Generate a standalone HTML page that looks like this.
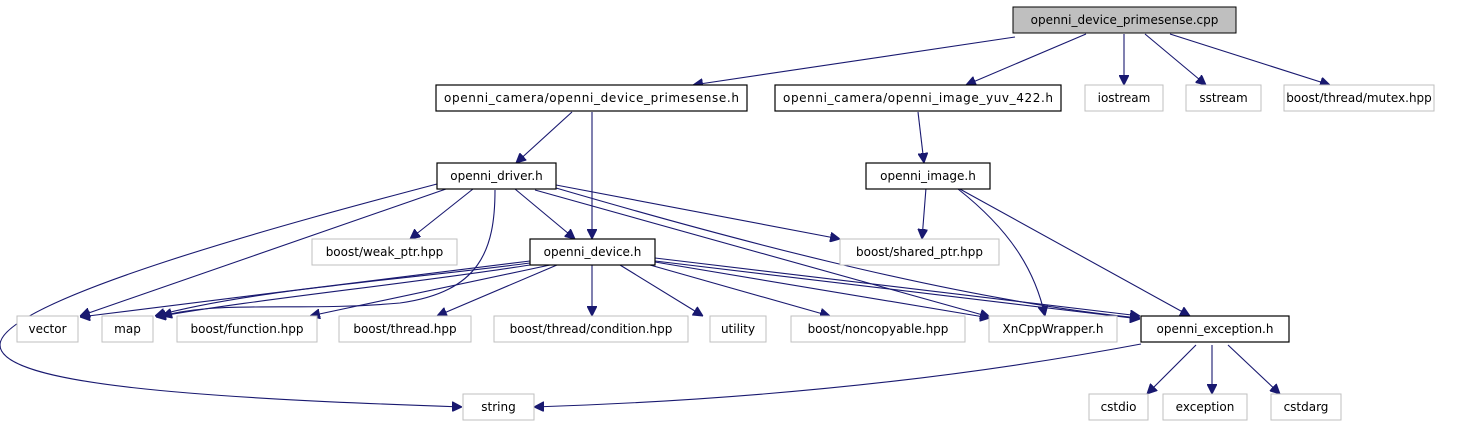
<!DOCTYPE html>
<html><head><meta charset="utf-8"><style>
html,body{margin:0;padding:0;background:#fff;width:1467px;height:427px;overflow:hidden}
text{font-family:"DejaVu Sans","Liberation Sans",sans-serif;font-size:12px;fill:#000}
.b{fill:#fff;stroke:#000;stroke-width:1.2}
.g{fill:#fff;stroke:#bfbfbf;stroke-width:1}
.e{fill:none;stroke:#191970;stroke-width:1.1}
</style></head><body>
<svg width="1467" height="427" viewBox="0 0 1467 427" xmlns="http://www.w3.org/2000/svg">
<defs><marker id="a" viewBox="0 0 10 10" refX="10" refY="5" markerWidth="10" markerHeight="10" markerUnits="userSpaceOnUse" orient="auto"><path d="M0,0 L10,5 L0,10 z" fill="#191970" stroke="#191970"/></marker></defs>
<g marker-end="url(#a)" class="e">
<path d="M1015,37 L693,85"/>
<path d="M1086,34 L966,85"/>
<path d="M1124,34 L1124,85"/>
<path d="M1145,34 L1206,85"/>
<path d="M1170,34 L1330,85"/>
<path d="M572,112 L516,163"/>
<path d="M592,112 L592,239"/>
<path d="M918,112 L924,163"/>
<path d="M437,184 C300,220 0,300 0,345 C0,385 200,398 462,407"/>
<path d="M446,189 L80,316"/>
<path d="M473,189 L410,239"/>
<path d="M495,190 C495,250 480,292 400,303 C300,312 220,300 162,316"/>
<path d="M515,189 L575,239"/>
<path d="M556,185 L840,239"/>
<path d="M535,190 L990,317"/>
<path d="M556,188 C700,230 950,300 1140,318"/>
<path d="M530,261 L80,317"/>
<path d="M530,263 C400,280 250,290 155,316"/>
<path d="M530,265 C400,285 250,300 156,317"/>
<path d="M550,265 L310,316"/>
<path d="M557,265 L437,316"/>
<path d="M592,265 L592,316"/>
<path d="M620,265 L703,316"/>
<path d="M650,265 L830,316"/>
<path d="M655,262 L990,318"/>
<path d="M655,258 C850,280 1000,300 1140,316"/>
<path d="M655,261 C850,283 1000,303 1140,319"/>
<path d="M926,188 L922,239"/>
<path d="M958,189 C1010,230 1035,270 1045,316"/>
<path d="M958,188 L1190,316"/>
<path d="M1141,344 C950,380 750,400 534,407"/>
<path d="M1196,345 L1147,394"/>
<path d="M1212,345 L1212,394"/>
<path d="M1228,345 L1280,394"/>
</g>
<rect x="1013" y="7" width="223" height="26" fill="#bfbfbf" stroke="#000"/><text x="1124.5" y="24" text-anchor="middle">openni_device_primesense.cpp</text>
<rect class="b" x="436" y="85" width="311" height="26"/><text x="591.5" y="102" text-anchor="middle" textLength="295">openni_camera/openni_device_primesense.h</text>
<rect class="b" x="775" y="85" width="286" height="26"/><text x="918" y="102" text-anchor="middle" textLength="270">openni_camera/openni_image_yuv_422.h</text>
<rect class="g" x="1085" y="85" width="78" height="26"/><text x="1124" y="102" text-anchor="middle">iostream</text>
<rect class="g" x="1186" y="85" width="75" height="26"/><text x="1223.5" y="102" text-anchor="middle">sstream</text>
<rect class="g" x="1284" y="85" width="150" height="26"/><text x="1359" y="102" text-anchor="middle">boost/thread/mutex.hpp</text>
<rect class="b" x="437" y="163" width="119" height="26"/><text x="496.5" y="180" text-anchor="middle">openni_driver.h</text>
<rect class="b" x="866" y="163" width="124" height="26"/><text x="928" y="180" text-anchor="middle">openni_image.h</text>
<rect class="g" x="312" y="239" width="145" height="26"/><text x="384.5" y="256" text-anchor="middle">boost/weak_ptr.hpp</text>
<rect class="b" x="530" y="239" width="125" height="26"/><text x="592.5" y="256" text-anchor="middle">openni_device.h</text>
<rect class="g" x="840" y="239" width="159" height="26"/><text x="919.5" y="256" text-anchor="middle">boost/shared_ptr.hpp</text>
<rect class="g" x="17" y="316" width="61" height="26"/><text x="47.5" y="333" text-anchor="middle">vector</text>
<rect class="g" x="102" y="316" width="51" height="26"/><text x="127.5" y="333" text-anchor="middle">map</text>
<rect class="g" x="177" y="316" width="140" height="26"/><text x="247" y="333" text-anchor="middle">boost/function.hpp</text>
<rect class="g" x="339" y="316" width="132" height="26"/><text x="405" y="333" text-anchor="middle">boost/thread.hpp</text>
<rect class="g" x="494" y="316" width="194" height="26"/><text x="591" y="333" text-anchor="middle">boost/thread/condition.hpp</text>
<rect class="g" x="710" y="316" width="56" height="26"/><text x="738" y="333" text-anchor="middle">utility</text>
<rect class="g" x="791" y="316" width="174" height="26"/><text x="878" y="333" text-anchor="middle">boost/noncopyable.hpp</text>
<rect class="g" x="989" y="316" width="128" height="26"/><text x="1053" y="333" text-anchor="middle">XnCppWrapper.h</text>
<rect class="b" x="1141" y="316" width="148" height="26"/><text x="1215" y="333" text-anchor="middle">openni_exception.h</text>
<rect class="g" x="463" y="394" width="71" height="26"/><text x="498.5" y="411" text-anchor="middle">string</text>
<rect class="g" x="1089" y="394" width="59" height="26"/><text x="1118.5" y="411" text-anchor="middle">cstdio</text>
<rect class="g" x="1163" y="394" width="84" height="26"/><text x="1205" y="411" text-anchor="middle">exception</text>
<rect class="g" x="1271" y="394" width="70" height="26"/><text x="1306" y="411" text-anchor="middle">cstdarg</text>
</svg>
</body></html>
